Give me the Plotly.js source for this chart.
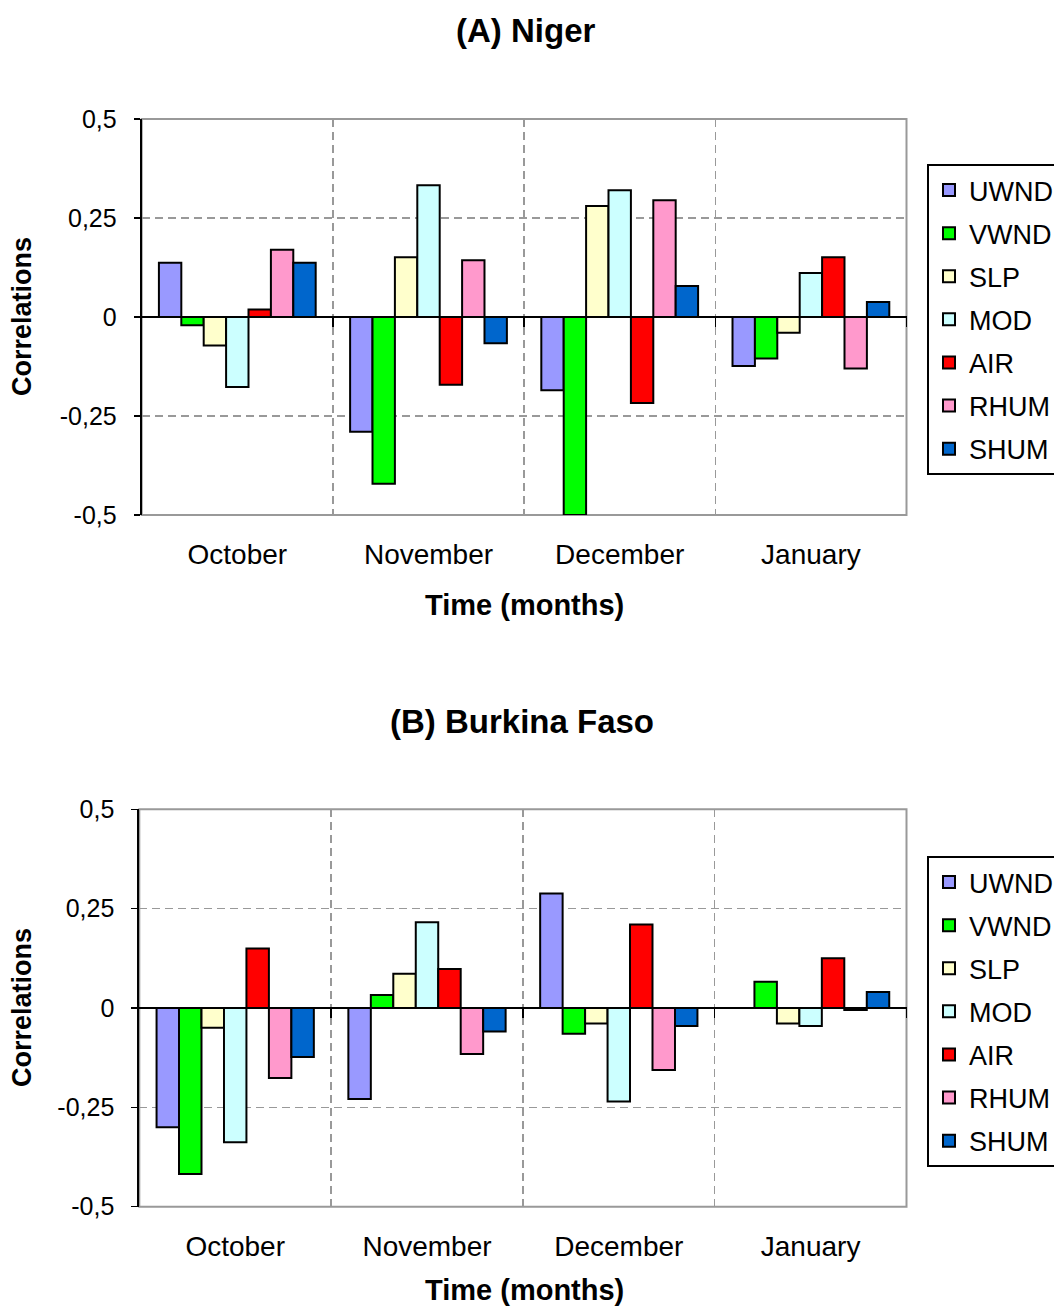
<!DOCTYPE html>
<html>
<head>
<meta charset="utf-8">
<script src="https://cdn.plot.ly/plotly-3.0.1.min.js"></script>
<style>html,body{margin:0;padding:0;background:#fff;} #chart{width:1054px;height:1308px;}</style>
</head>
<body>
<div id="chart"></div>
<script>
const categories = ['October', 'November', 'December', 'January'];
const seriesNames = ['UWND', 'VWND', 'SLP', 'MOD', 'AIR', 'RHUM', 'SHUM'];
const seriesColors = ['#9999FF', '#00FF00', '#FFFFCC', '#CCFFFF', '#FF0000', '#FF99CC', '#0066CC'];

// (A) Niger
const nigerUWND = [0.137, -0.290, -0.185, -0.124];
const nigerVWND = [-0.021, -0.421, -0.500, -0.105];
const nigerSLP  = [-0.072, 0.151, 0.280, -0.040];
const nigerMOD  = [-0.177, 0.333, 0.320, 0.111];
const nigerAIR  = [0.019, -0.171, -0.217, 0.151];
const nigerRHUM = [0.170, 0.143, 0.295, -0.130];
const nigerSHUM = [0.137, -0.066, 0.078, 0.038];

// (B) Burkina Faso
const burkinaUWND = [-0.300, -0.229, 0.288, 0.000];
const burkinaVWND = [-0.418, 0.033, -0.065, 0.066];
const burkinaSLP  = [-0.050, 0.086, -0.039, -0.039];
const burkinaMOD  = [-0.338, 0.216, -0.235, -0.045];
const burkinaAIR  = [0.150, 0.098, 0.210, 0.125];
const burkinaRHUM = [-0.176, -0.116, -0.156, -0.005];
const burkinaSHUM = [-0.123, -0.059, -0.045, 0.040];

const yTickVals = [-0.5, -0.25, 0, 0.25, 0.5];
const yTickText = ['-0,5', '-0,25', '0', '0,25', '0,5'];
const panelTitles = ['(A) Niger', '(B) Burkina Faso'];
const xTitle = 'Time (months)';
const yTitle = 'Correlations';

const nigerData = [nigerUWND, nigerVWND, nigerSLP, nigerMOD, nigerAIR, nigerRHUM, nigerSHUM];
const burkinaData = [burkinaUWND, burkinaVWND, burkinaSLP, burkinaMOD, burkinaAIR, burkinaRHUM, burkinaSHUM];

const FONT = 'Liberation Sans, Arial, sans-serif';
const W = 1054, H = 1308;
const py = v => 1 - v / H;
const px = v => v / W;

const traces = [];
function addPanel(dataSets, xa, ya, legendId, prefix) {
  dataSets.forEach((vals, i) => {
    traces.push({
      type: 'bar',
      x: categories,
      y: vals,
      name: seriesNames[i],
      xaxis: xa,
      yaxis: ya,
      legend: legendId,
      legendgroup: prefix + i,
      marker: { color: seriesColors[i], line: { color: '#000', width: 2 } },
      hoverinfo: 'skip'
    });
  });
}
addPanel(nigerData, 'x', 'y', 'legend', 'A');
addPanel(burkinaData, 'x2', 'y2', 'legend2', 'B');

// invisible helper traces so the tick-only overlay axes get drawn
traces.push({ type: 'scatter', x: [], y: [], xaxis: 'x3', yaxis: 'y', showlegend: false, hoverinfo: 'skip' });
traces.push({ type: 'scatter', x: [], y: [], xaxis: 'x4', yaxis: 'y2', showlegend: false, hoverinfo: 'skip' });

const domA = [py(515), py(119)];
const domB = [py(1206.7), py(809.3)];
const xdomA = [px(141.7), px(906.5)];
const xdomB = [px(139.3), px(906.5)];

function catAxis(domain, anchor) {
  return {
    domain: domain, anchor: anchor, type: 'category',
    tickson: 'boundaries', ticks: '', showline: false,
    showgrid: true, gridcolor: '#999999', gridwidth: 1.5, griddash: '8px,5px',
    tickfont: { family: FONT, size: 28, color: '#000' },
    ticklabelstandoff: 20, fixedrange: true, zeroline: false
  };
}
function valAxis(domain, anchor) {
  return {
    domain: domain, anchor: anchor, range: [-0.5, 0.5],
    tickvals: yTickVals, ticktext: yTickText,
    showgrid: true, gridcolor: '#999999', gridwidth: 1.5, griddash: '8px,5px',
    zeroline: true, zerolinecolor: '#000', zerolinewidth: 2,
    showline: true, linecolor: '#000', linewidth: 2,
    ticks: 'outside', ticklen: 6, tickwidth: 1.5, tickcolor: '#000',
    tickfont: { family: FONT, size: 25, color: '#000' },
    ticklabelstandoff: 12, fixedrange: true
  };
}
function zeroTickAxis(domain, yd, overlay) {
  return {
    domain: domain, overlaying: overlay, anchor: 'free',
    position: (yd[0] + yd[1]) / 2, side: 'bottom',
    range: [-0.5, 3.5], tickvals: [0.5, 1.5, 2.5, 3.5],
    ticks: 'outside', ticklen: 9, tickwidth: 1.5, tickcolor: '#000',
    showticklabels: false, showgrid: false, zeroline: false, showline: false,
    fixedrange: true
  };
}

function legendCfg(topPx) {
  return {
    x: px(927), xanchor: 'left', y: py(topPx), yanchor: 'top',
    bgcolor: '#fff', bordercolor: '#000', borderwidth: 2,
    font: { family: FONT, size: 27, color: '#000' },
    traceorder: 'grouped', tracegroupgap: 5, itemclick: false, itemdoubleclick: false
  };
}

const borderShape = (xr, yr) => ({
  type: 'rect', xref: xr + ' domain', yref: yr + ' domain',
  x0: 0, x1: 1, y0: 0, y1: 1, layer: 'below',
  line: { color: '#999999', width: 2 }
});

const ann = (text, x, y, size, angle) => ({
  text: '<b>' + text + '</b>', xref: 'paper', yref: 'paper',
  x: px(x), y: py(y), xanchor: 'center', yanchor: 'middle',
  showarrow: false, textangle: angle || 0,
  font: { family: FONT, size: size, color: '#000' }
});

const layout = {
  width: W, height: H,
  margin: { l: 0, r: 0, t: 0, b: 0, autoexpand: false },
  paper_bgcolor: '#fff', plot_bgcolor: '#fff',
  barmode: 'group', bargap: 0.18, bargroupgap: 0,
  showlegend: true,
  xaxis: catAxis(xdomA, 'y'),
  yaxis: valAxis(domA, 'x'),
  xaxis2: catAxis(xdomB, 'y2'),
  yaxis2: valAxis(domB, 'x2'),
  xaxis3: zeroTickAxis(xdomA, domA, 'x'),
  xaxis4: zeroTickAxis(xdomB, domB, 'x2'),
  legend: legendCfg(164),
  legend2: legendCfg(856),
  shapes: [borderShape('x', 'y'), borderShape('x2', 'y2')],
  annotations: [
    ann(panelTitles[0], 525, 31, 33),
    ann(panelTitles[1], 522, 721, 33),
    ann(xTitle, 524, 605, 29),
    ann(xTitle, 524, 1290, 29),
    ann(yTitle, 22, 317, 27, -90),
    ann(yTitle, 22, 1008, 27, -90)
  ]
};

Plotly.newPlot('chart', traces, layout, { displayModeBar: false, staticPlot: true });
</script>
</body>
</html>
